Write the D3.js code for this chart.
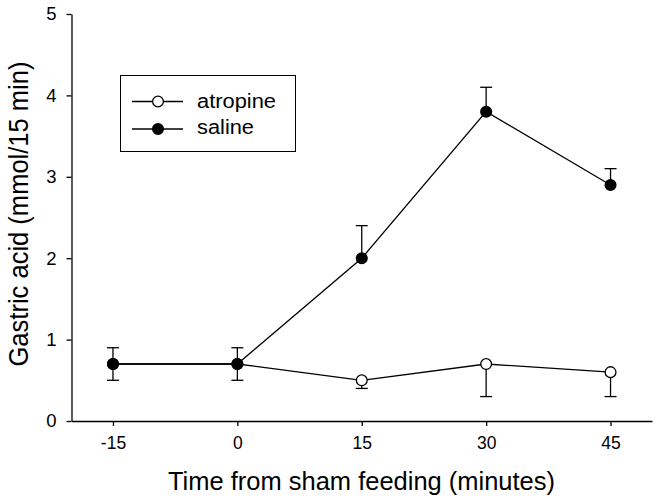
<!DOCTYPE html>
<html><head><meta charset="utf-8">
<script src="https://cdn.jsdelivr.net/npm/d3@7"></script>
<style>body{margin:0;background:#fff}svg{font-family:"Liberation Sans",Arial,sans-serif}</style>
</head><body>
<script>
const times = [-15, 0, 15, 30, 45];
const salineMean = [0.7, 0.7, 2.0, 3.8, 2.9];
const salineErr = [0.2, 0.2, 0.4, 0.3, 0.2];
const atropineMean = [0.7, 0.7, 0.5, 0.7, 0.6];
const atropineErr = [0.2, 0.2, 0.1, 0.4, 0.3];
const xTicks = [-15, 0, 15, 30, 45];
const yTicks = [0, 1, 2, 3, 4, 5];

const W = 662, H = 502;
const svg = d3.select("body").append("svg").attr("width", W).attr("height", H);
const x = d3.scaleLinear().domain([-20, 50]).range([71.5, 652]);
const y = d3.scaleLinear().domain([0, 5]).range([421, 14]);

const xAxis = svg.append("g").attr("transform", "translate(0,421)")
  .call(d3.axisBottom(x).tickValues(xTicks).tickFormat(d => String(d)).tickSize(5).tickSizeOuter(0).tickPadding(11));
const yAxis = svg.append("g").attr("transform", "translate(71.5,0)")
  .call(d3.axisLeft(y).tickValues(yTicks).tickFormat(d => String(d)).tickSize(5).tickSizeOuter(0).tickPadding(10));
[xAxis, yAxis].forEach(a => {
  a.selectAll("path,line").attr("stroke", "#000").attr("stroke-width", 1.3);
  a.selectAll("text").attr("fill", "#000").attr("font-family", "Liberation Sans, Arial, sans-serif");
});
xAxis.selectAll("text").attr("font-size", 17.5);
yAxis.selectAll("text").attr("font-size", 18.5);

svg.append("text").attr("x", 361.5).attr("y", 490).attr("text-anchor", "middle")
  .attr("font-size", 25.5).attr("textLength", 387).attr("lengthAdjust", "spacingAndGlyphs")
  .text("Time from sham feeding (minutes)");
svg.append("text").attr("transform", "translate(28,214) rotate(-90)").attr("text-anchor", "middle")
  .attr("font-size", 27).attr("textLength", 305).attr("lengthAdjust", "spacingAndGlyphs")
  .text("Gastric acid (mmol/15 min)");

const line = d3.line().x(d => x(d[0])).y(d => y(d[1]));
const sal = times.map((t, i) => [t, salineMean[i], salineErr[i]]);
const atr = times.map((t, i) => [t, atropineMean[i], atropineErr[i]]);

function errBars(data, dir) {
  const g = svg.append("g").attr("stroke", "#000").attr("stroke-width", 1.3);
  data.forEach(d => {
    const y1 = y(d[1] + dir * d[2]);
    g.append("line").attr("x1", x(d[0])).attr("x2", x(d[0])).attr("y1", y(d[1])).attr("y2", y1);
    g.append("line").attr("x1", x(d[0]) - 6).attr("x2", x(d[0]) + 6).attr("y1", y1).attr("y2", y1);
  });
}
errBars(atr, -1);
errBars(sal, 1);

svg.append("path").datum(atr).attr("d", line).attr("fill", "none").attr("stroke", "#000").attr("stroke-width", 1.3);
svg.append("path").datum(sal).attr("d", line).attr("fill", "none").attr("stroke", "#000").attr("stroke-width", 1.3);

svg.append("g").selectAll("circle").data(atr).join("circle")
  .attr("cx", d => x(d[0])).attr("cy", d => y(d[1])).attr("r", 5.4)
  .attr("fill", "#fff").attr("stroke", "#000").attr("stroke-width", 1.3);
svg.append("g").selectAll("circle").data(sal).join("circle")
  .attr("cx", d => x(d[0])).attr("cy", d => y(d[1])).attr("r", 5.4)
  .attr("fill", "#000").attr("stroke", "#000").attr("stroke-width", 1.3);

// legend
const lg = svg.append("g");
lg.append("rect").attr("x", 120.5).attr("y", 75.5).attr("width", 175).attr("height", 76)
  .attr("fill", "#fff").attr("stroke", "#000").attr("stroke-width", 1);
const items = [["atropine", "#fff", 101.5, 107.5, 79], ["saline", "#000", 129, 134, 57]];
items.forEach(([lab, fill, ly, by, tl]) => {
  lg.append("line").attr("x1", 132).attr("x2", 183).attr("y1", ly).attr("y2", ly).attr("stroke", "#000").attr("stroke-width", 1.3);
  lg.append("circle").attr("cx", 158).attr("cy", ly).attr("r", 5.4).attr("fill", fill).attr("stroke", "#000").attr("stroke-width", 1.3);
  lg.append("text").attr("x", 197).attr("y", by).attr("font-size", 20)
    .attr("textLength", tl).attr("lengthAdjust", "spacingAndGlyphs").text(lab);
});
</script>
</body></html>
